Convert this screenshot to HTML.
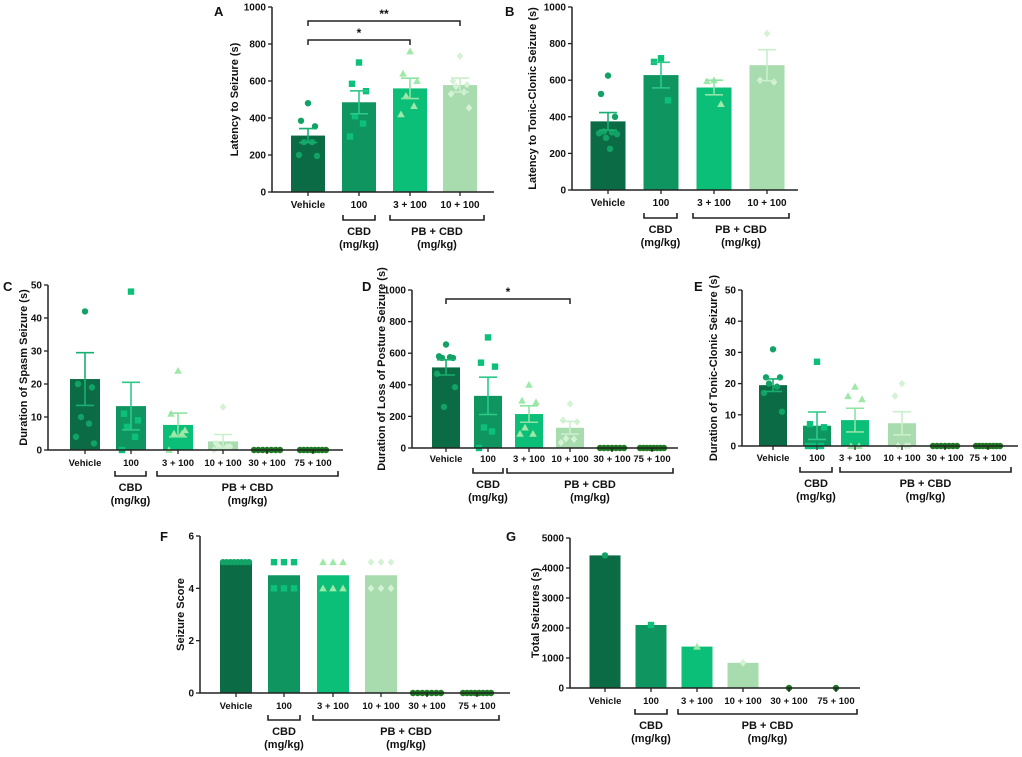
<!DOCTYPE html>
<html><head><meta charset="utf-8"><style>
body{margin:0;background:#fff;}
svg{display:block;font-family:"Liberation Sans",Arial,sans-serif;font-weight:bold;}
</style></head><body>
<svg id="fig" width="1022" height="757" viewBox="0 0 1022 757" xmlns="http://www.w3.org/2000/svg"></svg>
<script>
const groups6 = ["Vehicle","100","3 + 100","10 + 100","30 + 100","75 + 100"];
const groups4 = ["Vehicle","100","3 + 100","10 + 100"];
// Panel A
const aMeans = [305,485,560,578];
const aSem = [38,62,55,38];
const aPts = [[480,385,355,270,270,200,195],[700,585,545,410,370,300],[760,640,600,520,465,420],[735,600,580,570,540,530,455]];
const aTicks = [0,200,400,600,800,1000];
// Panel B
const bMeans = [375,628,560,682];
const bSem = [48,70,40,85];
const bPts = [[625,525,400,320,315,310,305,285,225],[720,700,490],[600,595,470],[855,600,590]];
const bTicks = [0,200,400,600,800,1000];
// Panel C
const cMeans = [21.5,13.3,7.6,2.6,0,0];
const cSem = [8,7.2,3.6,2.1,0,0];
const cPts = [[42,20,19,10,8,4,2],[48,11,9,7,4,0],[24,11,6,5,5,0],[13,2,1,1,1,0],[0,0,0,0,0,0,0],[0,0,0,0,0,0,0,0]];
const cTicks = [0,10,20,30,40,50];
// Panel D
const dMeans = [510,330,215,128,0,0];
const dSem = [48,118,52,40,0,0];
const dPts = [[655,580,570,570,575,470,385,260],[700,540,515,130,105,0],[400,300,290,130,90,90],[280,175,165,60,55,35],[0,0,0,0,0,0,0],[0,0,0,0,0,0,0,0]];
const dTicks = [0,200,400,600,800,1000];
// Panel E
const eMeans = [19.5,6.5,8.3,7.3,0,0];
const eSem = [2,4.4,3.8,3.7,0,0];
const ePts = [[31,22,22,20,19,17,11],[27,7,6,0,0,0],[19,16,15,0,0],[20,16,0,0,0],[0,0,0,0,0,0,0],[0,0,0,0,0,0,0,0]];
const eTicks = [0,10,20,30,40,50];
// Panel F
const fMeans = [5,4.5,4.5,4.5,0,0];
const fSem = [0,0,0,0,0,0];
const fPts = [[5,5,5,5,5,5,5,5],[5,5,5,4,4,4],[5,5,5,4,4,4],[5,5,5,4,4,4],[0,0,0,0,0,0,0],[0,0,0,0,0,0,0,0]];
const fTicks = [0,2,4,6];
// Panel G
const gMeans = [4420,2100,1380,840,0,0];
const gSem = [0,0,0,0,0,0];
const gPts = [[4420],[2100],[1380],[840],[0],[0]];
const gTicks = [0,1000,2000,3000,4000,5000];

const NS="http://www.w3.org/2000/svg";
const svg=document.getElementById('fig');
const barCol=["#0b6b44","#0f9660","#0cbf78","#a8dcae","#0b6b44","#0b6b44"];
const ptCol=["#12a266","#0cc07a","#9ee8a8","#d4f2d4","#1d7a22","#1d7a22"];
const errCol=["#18b070","#2cc98a","#8fe3a3","#c9efcc"];
const shapes=["circle","square","triangle","diamond","circle","circle"];
function el(tag,attrs,parent){const e=document.createElementNS(NS,tag);for(const k in attrs)e.setAttribute(k,attrs[k]);(parent||svg).appendChild(e);return e;}
function txt(x,y,s,size,parent,anchor,rot){const t=el('text',{x:x,y:y,'font-size':size,'text-anchor':anchor||'middle',fill:'#111'},parent);if(rot)t.setAttribute('transform','rotate(-90 '+x+' '+y+')');t.textContent=s;return t;}

function panel(cfg){
  const g=el('g',{});
  
  
  const ymax=cfg.ticks[cfg.ticks.length-1];
  const ys=v=>cfg.y0-(v/ymax)*(cfg.y0-cfg.y1);
  const n=cfg.means.length;
  const fs=n>4?9.5:10;
  for(let i=0;i<n;i++){
    const cx=cfg.cx[i];
    if(cfg.means[i]>0){
      const b=el('rect',{x:cx-cfg.bw/2,y:ys(cfg.means[i]),width:cfg.bw,height:cfg.y0-ys(cfg.means[i]),fill:barCol[i]},g);
      
      
    }
  }
  for(let i=0;i<n;i++){
    const pts=cfg.pts[i];const cx=cfg.cx[i];const c=ptCol[i];const sh=shapes[i];
    const m=pts.length;
    pts.forEach((v,j)=>{
      let px;
      if(v===0&&pts.every(q=>q===0)){const span=Math.min(cfg.bw-4,m*4);px=m>1?cx-span/2+span*j/(m-1):cx;}
      else if(cfg.fSpread&&i===0){px=cx-cfg.bw/2+3+j*(cfg.bw-6)/(m-1);}
      else if(cfg.fSpread){px=cx+((j%3)-1)*10;}
      else{const off=[0,-7,7,-4,4,-9,9,-2,2];px=cx+off[j%off.length];}
      const py=ys(v);let p;const r=3.2;
      if(sh==='circle')p=el('circle',{cx:px,cy:py,r:r,fill:c},g);
      else if(sh==='square')p=el('rect',{x:px-3.2,y:py-3.2,width:6.4,height:6.4,fill:c},g);
      else if(sh==='triangle')p=el('polygon',{points:(px)+','+(py-3.8)+' '+(px-3.8)+','+(py+3)+' '+(px+3.8)+','+(py+3),fill:c},g);
      else p=el('polygon',{points:px+','+(py-3.8)+' '+(px+3.3)+','+py+' '+px+','+(py+3.8)+' '+(px-3.3)+','+py,fill:c},g);
      
      
    });
  }
  for(let i=0;i<n;i++){
    if(cfg.sem[i]>0){const cx=cfg.cx[i];const c=errCol[i];
      const t=ys(cfg.means[i]+cfg.sem[i]),b=ys(cfg.means[i]-cfg.sem[i]);
      const e=el('path',{d:`M${cx},${t}V${b}M${cx-9},${t}H${cx+9}M${cx-9},${b}H${cx+9}`,stroke:c,'stroke-width':1.6,fill:'none'},g);
      
      
    }
  }
  const ax=el('path',{d:`M${cfg.ax},${cfg.y1}V${cfg.y0}H${cfg.xend}`,stroke:'#222','stroke-width':1.5,fill:'none'},g);
  
  
  cfg.ticks.forEach(v=>{const y=ys(v);el('line',{x1:cfg.ax-4,x2:cfg.ax,y1:y,y2:y,stroke:'#222','stroke-width':1.3},g);
    const t=txt(cfg.ax-6,y+3.5,String(v),10,g,'end');
    
    });
  for(let i=0;i<n;i++){const cx=cfg.cx[i];el('line',{x1:cx,x2:cx,y1:cfg.y0,y2:cfg.y0+4,stroke:'#222','stroke-width':1.3},g);
    const t=txt(cx,cfg.ly,cfg.labels[i],fs,g);
    
    }
  const yt=txt(cfg.ylx,(cfg.y0+cfg.y1)/2,cfg.ytitle,11,g,'middle',true);
  
  
  const L=txt(cfg.Lx,cfg.Ly,cfg.letter,13,g,'start');
  
  
  const by=cfg.by;
  [[cfg.b1[0],cfg.b1[1],'CBD'],[cfg.b2[0],cfg.b2[1],'PB + CBD']].forEach(b=>{
    el('path',{d:`M${b[0]},${by-5}V${by}H${b[1]}V${by-5}`,stroke:'#222','stroke-width':1.6,fill:'none'},g);
    const mx=(b[0]+b[1])/2;
    const t1=txt(mx,by+15,b[2],11,g);
    
    
    const t2=txt(mx,by+28,'(mg/kg)',11,g);
    
    
  });
  (cfg.sig||[]).forEach(s=>{
    const x1=cfg.cx[s[0]],x2=cfg.cx[s[1]];
    el('path',{d:`M${x1},${s[2]+5}V${s[2]}H${x2}V${s[2]+5}`,stroke:'#222','stroke-width':1.5,fill:'none'},g);
    const t=txt((x1+x2)/2,s[2]-3,s[3],12,g);
    
    
  });
}

panel({name:'panel-a',letter:'A',Lx:214,Ly:16,labels:groups4,means:aMeans,sem:aSem,pts:aPts,ticks:aTicks,
  ax:272,xend:494,y1:7,y0:192,cx:[308,359,410,460],bw:34,ly:208,by:220,b1:[343,375],b2:[390,484],ylx:238,
  ytitle:'Latency to Seizure (s)',sig:[[0,3,21,'**'],[0,2,40,'*']]});
panel({name:'panel-b',letter:'B',Lx:505,Ly:16,labels:groups4,means:bMeans,sem:bSem,pts:bPts,ticks:bTicks,
  ax:572,xend:798,y1:7,y0:190,cx:[608,661,714,767],bw:35,ly:206,by:218,b1:[644,677],b2:[693,789],ylx:536,
  ytitle:'Latency to Tonic-Clonic Seizure (s)'});
panel({name:'panel-c',letter:'C',Lx:3,Ly:291,labels:groups6,means:cMeans,sem:cSem,pts:cPts,ticks:cTicks,
  ax:48,xend:343,y1:285,y0:450,cx:[85,131,178,223,267,313],bw:30,ly:466,by:476,b1:[115,146],b2:[157,338],ylx:27,
  ytitle:'Duration of Spasm Seizure (s)'});
panel({name:'panel-d',letter:'D',Lx:362,Ly:291,labels:groups6,means:dMeans,sem:dSem,pts:dPts,ticks:dTicks,
  ax:412,xend:678,y1:290,y0:448,cx:[446,488,529,570,612,652],bw:28,ly:462,by:473,b1:[473,503],b2:[507,673],ylx:385,
  ytitle:'Duration of Loss of Posture Seizure (s)',sig:[[0,3,299,'*']]});
panel({name:'panel-e',letter:'E',Lx:694,Ly:291,labels:groups6,means:eMeans,sem:eSem,pts:ePts,ticks:eTicks,
  ax:742,xend:1018,y1:290,y0:446,cx:[773,817,855,902,945,988],bw:28,ly:461,by:472,b1:[800,832],b2:[840,1011],ylx:717,
  ytitle:'Duration of Tonic-Clonic Seizure (s)'});
panel({name:'panel-f',letter:'F',Lx:160,Ly:541,labels:groups6,means:fMeans,sem:fSem,pts:fPts,ticks:fTicks,fSpread:true,
  ax:200,xend:510,y1:536,y0:693,cx:[236,284,333,381,427,477],bw:32,ly:709,by:720,b1:[268,300],b2:[313,499],ylx:184,
  ytitle:'Seizure Score'});
panel({name:'panel-g',letter:'G',Lx:506,Ly:541,labels:groups6,means:gMeans,sem:gSem,pts:gPts,ticks:gTicks,
  ax:570,xend:860,y1:538,y0:688,cx:[605,651,697,743,789,836],bw:31,ly:704,by:714,b1:[635,667],b2:[678,857],ylx:539,
  ytitle:'Total Seizures (s)'});
</script>
</body></html>
